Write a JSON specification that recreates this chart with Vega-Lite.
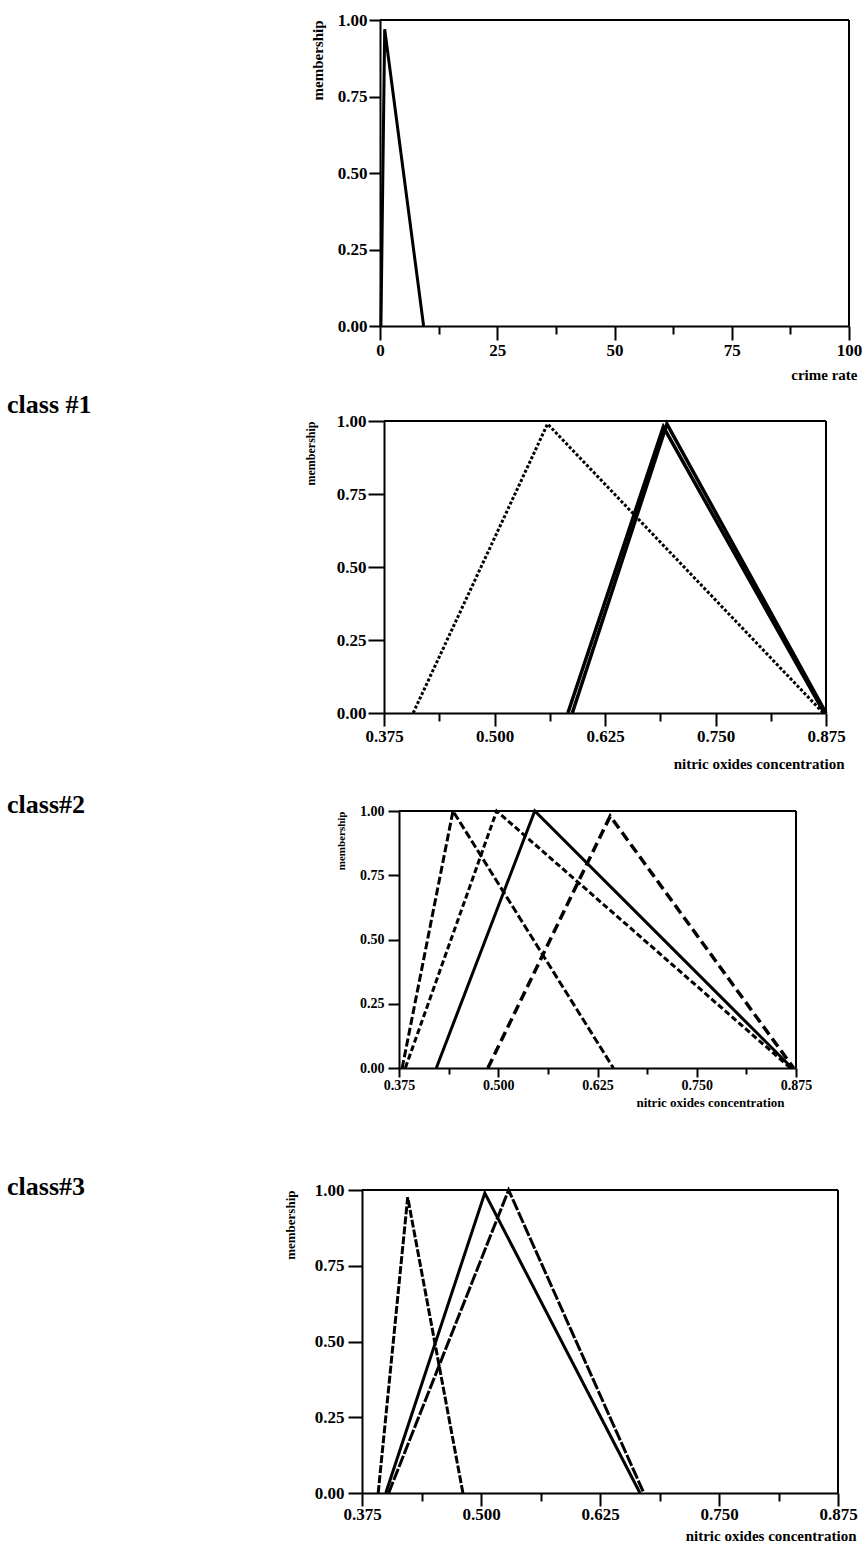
{
  "$schema": "https://vega.github.io/schema/vega-lite/v6.json",
  "padding": {"left": 7, "top": 11, "right": 0, "bottom": 0},
  "columns": 2,
  "align": "none",
  "bounds": "flush",
  "spacing": 0,
  "config": {
    "font": "Liberation Serif",
    "axis": {"labelFont": "Liberation Serif", "labelFontWeight": "bold", "labelColor": "black", "titleFont": "Liberation Serif", "titleFontWeight": "bold", "titleColor": "black", "domainColor": "black", "domainWidth": 2, "tickColor": "black", "tickWidth": 2, "grid": false, "labelFlush": false, "labelOverlap": false},
    "title": {"font": "Liberation Serif", "fontWeight": "bold", "color": "black", "fontSize": 26},
    "view": {"stroke": null},
    "line": {"color": "black", "strokeCap": "butt", "strokeWidth": 3},
    "rule": {"color": "black", "strokeWidth": 2}
  },
  "datasets": {
    "p1": [
      {"s": "a", "x": 0.2, "y": 0}, {"s": "a", "x": 1.0, "y": 0.97}, {"s": "a", "x": 9.3, "y": 0}
    ],
    "p2": [
      {"s": "dotted", "x": 0.408, "y": 0}, {"s": "dotted", "x": 0.560, "y": 0.99}, {"s": "dotted", "x": 0.872, "y": 0},
      {"s": "solid1", "x": 0.583, "y": 0}, {"s": "solid1", "x": 0.691, "y": 0.98}, {"s": "solid1", "x": 0.873, "y": 0},
      {"s": "solid2", "x": 0.588, "y": 0}, {"s": "solid2", "x": 0.695, "y": 0.99}, {"s": "solid2", "x": 0.875, "y": 0}
    ],
    "p3": [
      {"s": "S1", "x": 0.379, "y": 0}, {"s": "S1", "x": 0.443, "y": 1.0}, {"s": "S1", "x": 0.645, "y": 0},
      {"s": "S2", "x": 0.383, "y": 0}, {"s": "S2", "x": 0.498, "y": 1.0}, {"s": "S2", "x": 0.868, "y": 0},
      {"s": "S3", "x": 0.422, "y": 0}, {"s": "S3", "x": 0.546, "y": 1.0}, {"s": "S3", "x": 0.870, "y": 0},
      {"s": "S4", "x": 0.487, "y": 0}, {"s": "S4", "x": 0.641, "y": 0.98}, {"s": "S4", "x": 0.872, "y": 0}
    ],
    "p4": [
      {"s": "T1", "x": 0.392, "y": 0}, {"s": "T1", "x": 0.423, "y": 0.976}, {"s": "T1", "x": 0.481, "y": 0},
      {"s": "T2", "x": 0.400, "y": 0}, {"s": "T2", "x": 0.504, "y": 0.99}, {"s": "T2", "x": 0.667, "y": 0},
      {"s": "T3", "x": 0.403, "y": 0}, {"s": "T3", "x": 0.529, "y": 1.0}, {"s": "T3", "x": 0.671, "y": 0}
    ],
    "one": [{}]
  },
  "concat": [
    {"width": 355, "height": 306, "data": {"values": []}, "mark": "point"},
    {
      "width": 487, "height": 306,
      "layer": [
        {
          "data": {"name": "p1"},
          "mark": {"type": "line", "strokeWidth": 3},
          "encoding": {
            "x": {"field": "x", "type": "quantitative", "scale": {"domain": [0, 100], "range": [18, 487], "nice": false, "zero": false},
              "axis": {"values": [0, 12.5, 25, 37.5, 50, 62.5, 75, 87.5, 100], "format": "d",
                "labelExpr": "datum.value % 25 === 0 ? datum.label : ''",
                "tickSize": {"condition": {"test": "datum.value % 25 === 0", "value": 14}, "value": 8},
                "labelFontSize": 17, "labelPadding": 2,
                "title": "crime rate", "titleFontSize": 15, "titleAnchor": "end", "titleX": 495, "titlePadding": 9}},
            "y": {"field": "y", "type": "quantitative", "scale": {"domain": [0, 1], "nice": false},
              "axis": {"offset": -18, "values": [0, 0.125, 0.25, 0.375, 0.5, 0.625, 0.75, 0.875, 1], "format": ".2f",
                "labelExpr": "(datum.value * 4) % 1 === 0 ? datum.label : ''",
                "tickSize": {"condition": {"test": "(datum.value * 4) % 1 === 0", "value": 11}, "value": 7},
                "labelFontSize": 17, "labelPadding": 2,
                "title": "membership", "titleFontSize": 15, "titleAnchor": "end", "titlePadding": 12}}
          }
        },
        {"data": {"name": "one"}, "mark": "rule", "encoding": {"x": {"datum": 0, "type": "quantitative"}, "x2": {"datum": 100}, "y": {"datum": 1, "type": "quantitative"}}},
        {"data": {"name": "one"}, "mark": "rule", "encoding": {"x": {"datum": 100, "type": "quantitative"}, "y": {"datum": 0, "type": "quantitative"}, "y2": {"datum": 1}}}
      ]
    },
    {"width": 10, "height": 95, "data": {"values": []}, "mark": "point"},
    {"width": 10, "height": 95, "data": {"values": []}, "mark": "point"},
    {"width": 355, "height": 292, "data": {"values": []}, "mark": "point",
      "title": {"text": "class #1", "anchor": "start", "frame": "group", "offset": -18, "baseline": "alphabetic"}},
    {
      "width": 487, "height": 292,
      "data": {"name": "p2"},
      "layer": [
        {
          "transform": [{"filter": "datum.s === 'dotted'"}],
          "mark": {"type": "line", "strokeWidth": 3, "strokeDash": [3, 2]},
          "encoding": {
            "x": {"field": "x", "type": "quantitative", "scale": {"domain": [0.375, 0.875], "range": [22, 464], "nice": false, "zero": false},
              "axis": {"values": [0.375, 0.4375, 0.5, 0.5625, 0.625, 0.6875, 0.75, 0.8125, 0.875], "format": ".3f",
                "labelExpr": "(datum.value * 8) % 1 === 0 ? datum.label : ''",
                "tickSize": {"condition": {"test": "(datum.value * 8) % 1 === 0", "value": 13}, "value": 8},
                "labelFontSize": 17, "labelPadding": 2,
                "title": "nitric oxides concentration", "titleFontSize": 15, "titleAnchor": "end", "titleX": 482, "titlePadding": 12}},
            "y": {"field": "y", "type": "quantitative", "scale": {"domain": [0, 1], "nice": false},
              "axis": {"offset": -22, "values": [0, 0.125, 0.25, 0.375, 0.5, 0.625, 0.75, 0.875, 1], "format": ".2f",
                "labelExpr": "(datum.value * 4) % 1 === 0 ? datum.label : ''",
                "tickSize": {"condition": {"test": "(datum.value * 4) % 1 === 0", "value": 16}, "value": 10},
                "labelFontSize": 17, "labelPadding": 2,
                "title": "membership", "titleFontSize": 12, "titleAnchor": "end", "titlePadding": 19}}
          }
        },
        {
          "transform": [{"filter": "datum.s === 'solid1'"}],
          "mark": {"type": "line", "strokeWidth": 3.5},
          "encoding": {"x": {"field": "x", "type": "quantitative"}, "y": {"field": "y", "type": "quantitative"}}
        },
        {
          "transform": [{"filter": "datum.s === 'solid2'"}],
          "mark": {"type": "line", "strokeWidth": 3.5},
          "encoding": {"x": {"field": "x", "type": "quantitative"}, "y": {"field": "y", "type": "quantitative"}}
        },
        {"data": {"name": "one"}, "mark": "rule", "encoding": {"x": {"datum": 0.375, "type": "quantitative"}, "x2": {"datum": 0.875}, "y": {"datum": 1, "type": "quantitative"}}},
        {"data": {"name": "one"}, "mark": "rule", "encoding": {"x": {"datum": 0.875, "type": "quantitative"}, "y": {"datum": 0, "type": "quantitative"}, "y2": {"datum": 1}}}
      ]
    },
    {"width": 10, "height": 98, "data": {"values": []}, "mark": "point"},
    {"width": 10, "height": 98, "data": {"values": []}, "mark": "point"},
    {"width": 355, "height": 257, "data": {"values": []}, "mark": "point",
      "title": {"text": "class#2", "anchor": "start", "frame": "group", "offset": -28, "baseline": "alphabetic"}},
    {
      "width": 487, "height": 257,
      "data": {"name": "p3"},
      "layer": [
        {
          "transform": [{"filter": "datum.s === 'S1'"}],
          "mark": {"type": "line", "strokeWidth": 3, "strokeDash": [8, 3]},
          "encoding": {
            "x": {"field": "x", "type": "quantitative", "scale": {"domain": [0.375, 0.875], "range": [37, 434], "nice": false, "zero": false},
              "axis": {"values": [0.375, 0.4375, 0.5, 0.5625, 0.625, 0.6875, 0.75, 0.8125, 0.875], "format": ".3f",
                "labelExpr": "(datum.value * 8) % 1 === 0 ? datum.label : ''",
                "tickSize": {"condition": {"test": "(datum.value * 8) % 1 === 0", "value": 9}, "value": 6},
                "labelFontSize": 14, "labelPadding": 1,
                "title": "nitric oxides concentration", "titleFontSize": 13, "titleAnchor": "end", "titleX": 422, "titlePadding": 4}},
            "y": {"field": "y", "type": "quantitative", "scale": {"domain": [0, 1], "nice": false},
              "axis": {"offset": -37, "values": [0, 0.125, 0.25, 0.375, 0.5, 0.625, 0.75, 0.875, 1], "format": ".2f",
                "labelExpr": "(datum.value * 4) % 1 === 0 ? datum.label : ''",
                "tickSize": {"condition": {"test": "(datum.value * 4) % 1 === 0", "value": 11}, "value": 7},
                "labelFontSize": 14, "labelPadding": 4,
                "title": "membership", "titleFontSize": 11, "titleAnchor": "end", "titlePadding": 13}}
          }
        },
        {
          "transform": [{"filter": "datum.s === 'S2'"}],
          "mark": {"type": "line", "strokeWidth": 3, "strokeDash": [6, 3]},
          "encoding": {"x": {"field": "x", "type": "quantitative"}, "y": {"field": "y", "type": "quantitative"}}
        },
        {
          "transform": [{"filter": "datum.s === 'S3'"}],
          "mark": {"type": "line", "strokeWidth": 3},
          "encoding": {"x": {"field": "x", "type": "quantitative"}, "y": {"field": "y", "type": "quantitative"}}
        },
        {
          "transform": [{"filter": "datum.s === 'S4'"}],
          "mark": {"type": "line", "strokeWidth": 3.5, "strokeDash": [10, 5]},
          "encoding": {"x": {"field": "x", "type": "quantitative"}, "y": {"field": "y", "type": "quantitative"}}
        },
        {"data": {"name": "one"}, "mark": "rule", "encoding": {"x": {"datum": 0.375, "type": "quantitative"}, "x2": {"datum": 0.875}, "y": {"datum": 1, "type": "quantitative"}}},
        {"data": {"name": "one"}, "mark": "rule", "encoding": {"x": {"datum": 0.875, "type": "quantitative"}, "y": {"datum": 0, "type": "quantitative"}, "y2": {"datum": 1}}}
      ]
    },
    {"width": 10, "height": 122, "data": {"values": []}, "mark": "point"},
    {"width": 10, "height": 122, "data": {"values": []}, "mark": "point"},
    {"width": 355, "height": 303, "data": {"values": []}, "mark": "point",
      "title": {"text": "class#3", "anchor": "start", "frame": "group", "offset": -31, "baseline": "alphabetic"}},
    {
      "width": 487, "height": 303,
      "data": {"name": "p4"},
      "layer": [
        {
          "transform": [{"filter": "datum.s === 'T1'"}],
          "mark": {"type": "line", "strokeWidth": 3, "strokeDash": [8, 2]},
          "encoding": {
            "x": {"field": "x", "type": "quantitative", "scale": {"domain": [0.375, 0.875], "range": [0, 476], "nice": false, "zero": false},
              "axis": {"values": [0.375, 0.4375, 0.5, 0.5625, 0.625, 0.6875, 0.75, 0.8125, 0.875], "format": ".3f",
                "labelExpr": "(datum.value * 8) % 1 === 0 ? datum.label : ''",
                "tickSize": {"condition": {"test": "(datum.value * 8) % 1 === 0", "value": 13}, "value": 8},
                "labelFontSize": 17, "labelPadding": 0,
                "title": "nitric oxides concentration", "titleFontSize": 15, "titleAnchor": "end", "titleX": 494, "titlePadding": 6}},
            "y": {"field": "y", "type": "quantitative", "scale": {"domain": [0, 1], "nice": false},
              "axis": {"values": [0, 0.125, 0.25, 0.375, 0.5, 0.625, 0.75, 0.875, 1], "format": ".2f",
                "labelExpr": "(datum.value * 4) % 1 === 0 ? datum.label : ''",
                "tickSize": {"condition": {"test": "(datum.value * 4) % 1 === 0", "value": 14}, "value": 8},
                "labelFontSize": 17, "labelPadding": 4,
                "title": "membership", "titleFontSize": 13, "titleAnchor": "end", "titlePadding": 17}}
          }
        },
        {
          "transform": [{"filter": "datum.s === 'T2'"}],
          "mark": {"type": "line", "strokeWidth": 3},
          "encoding": {"x": {"field": "x", "type": "quantitative"}, "y": {"field": "y", "type": "quantitative"}}
        },
        {
          "transform": [{"filter": "datum.s === 'T3'"}],
          "mark": {"type": "line", "strokeWidth": 3, "strokeDash": [12, 2]},
          "encoding": {"x": {"field": "x", "type": "quantitative"}, "y": {"field": "y", "type": "quantitative"}}
        },
        {"data": {"name": "one"}, "mark": "rule", "encoding": {"x": {"datum": 0.375, "type": "quantitative"}, "x2": {"datum": 0.875}, "y": {"datum": 1, "type": "quantitative"}}},
        {"data": {"name": "one"}, "mark": "rule", "encoding": {"x": {"datum": 0.875, "type": "quantitative"}, "y": {"datum": 0, "type": "quantitative"}, "y2": {"datum": 1}}}
      ]
    }
  ]
}
